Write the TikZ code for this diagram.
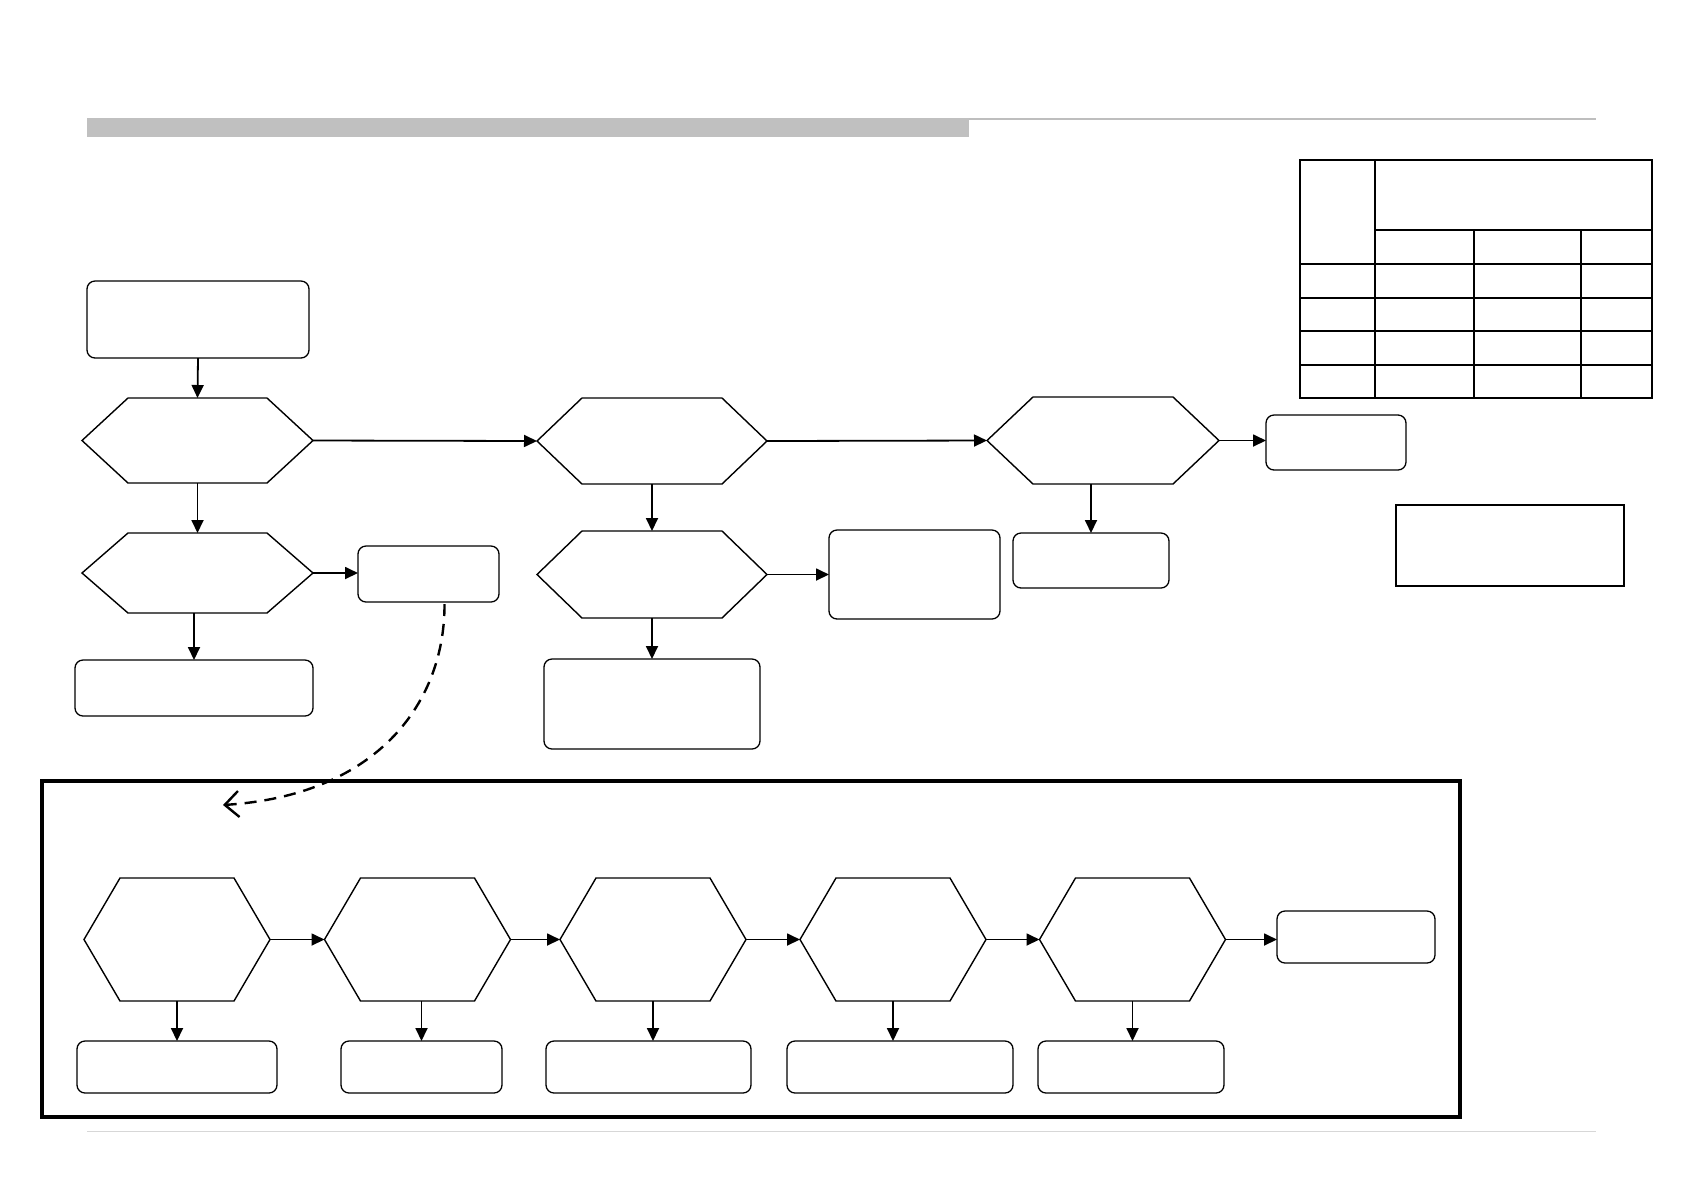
\documentclass[tikz,border=0pt]{standalone}
\usetikzlibrary{arrows.meta,calc}
\newcommand\hexpath[2]{\draw[hexline] (#1.west) -- ([xshift=#2]#1.north west) -- ([xshift=-#2]#1.north east) -- (#1.east) -- ([xshift=-#2]#1.south east) -- ([xshift=#2]#1.south west) -- cycle;}
\tikzset{
  rbox/.style={draw, rounded corners=4pt, line width=0.65pt, inner sep=0pt, outer sep=0pt},
  sbox/.style={draw, line width=0.65pt, inner sep=0pt, outer sep=0pt},
  hexnode/.style={inner sep=0pt, outer sep=0pt},
  hexline/.style={line width=0.7pt, line join=miter},
  conn/.style={line width=0.9pt, -{Triangle[length=6.5pt,width=6pt]}},
  tabline/.style={line width=0.9pt},
}
\begin{document}
\begin{tikzpicture}[x=0.5pt,y=-0.5pt]
\useasboundingbox (0,0) rectangle (1683,1191);
% header bar and rules
\fill[fill={rgb,255:red,192;green,192;blue,192}] (87,118) rectangle (969,137);
\draw[line width=0.7pt, color={rgb,255:red,190;green,190;blue,190}] (969,119) -- (1596,119);
\draw[line width=0.5pt, color={rgb,255:red,215;green,215;blue,215}] (87,1131) -- (1596,1131);
% table
\draw[tabline] (1300,160) rectangle (1652,398);
\draw[tabline] (1375,160) -- (1375,398);
\draw[tabline] (1375,230) -- (1652,230);
\draw[tabline] (1474,230) -- (1474,398);
\draw[tabline] (1581,230) -- (1581,398);
\foreach \yy in {264,298,331,365} \draw[tabline] (1300,\yy) -- (1652,\yy);
% upper flow
\node[rbox, minimum width=111pt, minimum height=38.5pt] (box0) at (198,319.5) {};
\node[hexnode, minimum width=115.5pt, minimum height=42.5pt] (hA1) at (197.5,440.5) {};
\hexpath{hA1}{23pt}
\node[hexnode, minimum width=115.5pt, minimum height=40pt] (hA2) at (197.5,573) {};
\hexpath{hA2}{23pt}
\node[rbox, minimum width=70.5pt, minimum height=28pt] (bA2r) at (428.5,574) {};
\node[rbox, minimum width=119pt, minimum height=28pt] (bA2d) at (194,688) {};
\node[hexnode, minimum width=115pt, minimum height=43pt] (hB1) at (652,441) {};
\hexpath{hB1}{22.5pt}
\node[hexnode, minimum width=115pt, minimum height=43.5pt] (hB2) at (652,574.5) {};
\hexpath{hB2}{22.5pt}
\node[rbox, minimum width=85.5pt, minimum height=44.5pt] (bB2r) at (914.5,574.5) {};
\node[rbox, minimum width=108pt, minimum height=45pt] (bB2d) at (652,704) {};
\node[hexnode, minimum width=116pt, minimum height=43.5pt] (hC1) at (1103,440.5) {};
\hexpath{hC1}{23pt}
\node[rbox, minimum width=70pt, minimum height=27.5pt] (bC1r) at (1336,442.5) {};
\node[rbox, minimum width=78pt, minimum height=27.5pt] (bC1d) at (1091,560.5) {};
\node[sbox, minimum width=114pt, minimum height=40.5pt] (rectS) at (1510,545.5) {};
\draw[conn] (box0.south) -- (hA1.north);
\draw[conn] (hA1.south) -- (hA2.north);
\draw[conn] (hA1.east) -- (hB1.west);
\draw[conn] (hA2.east) -- (hA2.east -| bA2r.west);
\draw[conn] (hA2.south -| bA2d.north) -- (bA2d.north);
\draw[conn] (hB1.south) -- (hB2.north);
\draw[conn] (hB1.east) -- (hC1.west);
\draw[conn] (hB2.east) -- (hB2.east -| bB2r.west);
\draw[conn] (hB2.south) -- (bB2d.north);
\draw[conn] (hC1.east) -- (hC1.east -| bC1r.west);
\draw[conn] (hC1.south -| bC1d.north) -- (bC1d.north);
% frame
\draw[line width=1.6pt] (42,781) rectangle (1460,1117);
% dashed connector
\coordinate (dstart) at ($(bA2r.south)+(16,2)$);
\coordinate (dend) at (223,805);
\draw[line width=1.2pt, dash pattern=on 6pt off 4pt, -{Straight Barb[length=7pt,width=13pt,line width=1.2pt]}]
  (dstart) .. controls (445,700) and (380,795) .. (dend);
% lower flow
\foreach \n/\cx in {H1/177,H2/417.5,H3/653,H4/893,H5/1132.5}{
  \node[hexnode, minimum width=93pt, minimum height=61.5pt] (\n) at (\cx,939.5) {};
  \hexpath{\n}{18pt}
}
\node[rbox, minimum width=79pt, minimum height=26pt] (bEnd) at (1356,937) {};
\node[rbox, minimum width=100pt, minimum height=26pt] (B1) at (177,1067) {};
\node[rbox, minimum width=80.5pt, minimum height=26pt] (B2) at (421.5,1067) {};
\node[rbox, minimum width=102.5pt, minimum height=26pt] (B3) at (648.5,1067) {};
\node[rbox, minimum width=113pt, minimum height=26pt] (B4) at (900,1067) {};
\node[rbox, minimum width=93pt, minimum height=26pt] (B5) at (1131,1067) {};
\draw[conn] (H1.east) -- (H2.west);
\draw[conn] (H2.east) -- (H3.west);
\draw[conn] (H3.east) -- (H4.west);
\draw[conn] (H4.east) -- (H5.west);
\draw[conn] (H5.east) -- (H5.east -| bEnd.west);
\draw[conn] (H1.south) -- (H1.south |- B1.north);
\draw[conn] (H2.south -| B2.north) -- (B2.north);
\draw[conn] (H3.south) -- (H3.south |- B3.north);
\draw[conn] (H4.south) -- (H4.south |- B4.north);
\draw[conn] (H5.south) -- (H5.south |- B5.north);
\end{tikzpicture}
\end{document}
